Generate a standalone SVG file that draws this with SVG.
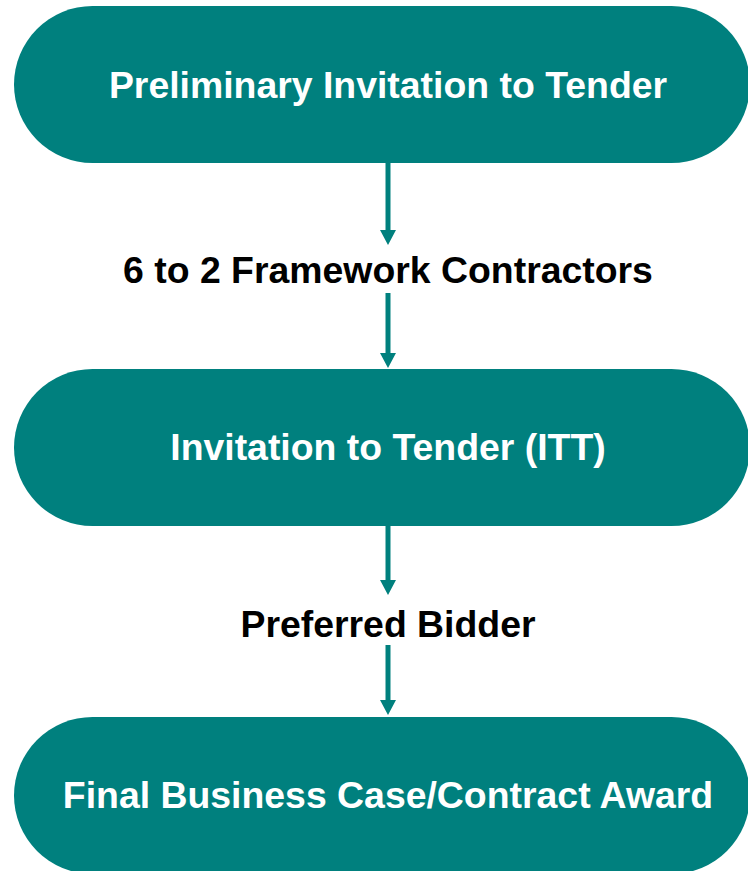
<svg xmlns="http://www.w3.org/2000/svg" width="748" height="871" viewBox="0 0 748 871">
  <defs>
    <style>
      .node { fill: #00807E; }
      .ntext { fill: #FFFFFF; font-family: "Liberation Sans", Arial, sans-serif; font-weight: bold; font-size: 37.4px; text-anchor: middle; }
      .ltext { fill: #000000; font-family: "Liberation Sans", Arial, sans-serif; font-weight: bold; font-size: 37.4px; text-anchor: middle; }
      .conn { stroke: #00807E; stroke-width: 5; fill: none; }
      .head { fill: #00807E; }
    </style>
  </defs>
  <rect width="748" height="871" fill="#FFFFFF"/>
  <g id="connectors">
    <line class="conn" x1="388" y1="162" x2="388" y2="232"/>
    <polygon class="head" points="380,230 396,230 388,245"/>
    <line class="conn" x1="388" y1="293" x2="388" y2="355"/>
    <polygon class="head" points="380,353 396,353 388,368"/>
    <line class="conn" x1="388" y1="525" x2="388" y2="582"/>
    <polygon class="head" points="380,580 396,580 388,595"/>
    <line class="conn" x1="388" y1="645" x2="388" y2="702"/>
    <polygon class="head" points="380,700 396,700 388,715"/>
  </g>
  <g id="node-preliminary">
    <rect class="node" x="14" y="6" width="736" height="157" rx="78.5" ry="78.5"/>
    <text class="ntext" x="388" y="98">Preliminary Invitation to Tender</text>
  </g>
  <g id="label-framework">
    <text class="ltext" x="388" y="283">6 to 2 Framework Contractors</text>
  </g>
  <g id="node-itt">
    <rect class="node" x="14" y="369" width="736" height="157" rx="78.5" ry="78.5"/>
    <text class="ntext" x="388" y="460">Invitation to Tender (ITT)</text>
  </g>
  <g id="label-bidder">
    <text class="ltext" x="388" y="637">Preferred Bidder</text>
  </g>
  <g id="node-final">
    <rect class="node" x="14" y="717" width="736" height="157" rx="78.5" ry="78.5"/>
    <text class="ntext" x="388" y="808">Final Business Case/Contract Award</text>
  </g>
</svg>
